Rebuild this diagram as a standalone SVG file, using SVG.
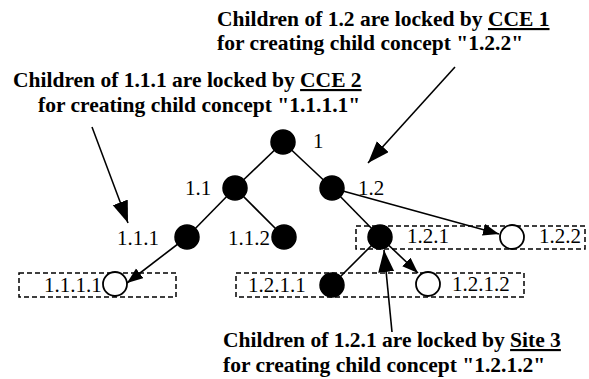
<svg xmlns="http://www.w3.org/2000/svg" width="589" height="379" viewBox="0 0 589 379">
  <style>
    .edge { stroke: #000; stroke-width: 1.6; fill: none; }
    .group { stroke: #000; stroke-width: 1.5; stroke-dasharray: 5 3; fill: none; }
    .full { fill: #000; stroke: #000; stroke-width: 1.5; }
    .open { fill: #fff; stroke: #000; stroke-width: 1.8; }
    .lbl { font-family: "Liberation Serif", "Times New Roman", serif; font-size: 21px; fill: #000; }
    .note { font-family: "Liberation Serif", "Times New Roman", serif; font-size: 21.5px; font-weight: bold; fill: #000; }
    .u { text-decoration: underline; }
  </style>
  <defs>
    <marker id="bigHead" markerUnits="userSpaceOnUse" markerWidth="24" markerHeight="18" refX="22" refY="8" orient="auto">
      <path d="M0,0 L22,8 L0,16 Z" fill="#000"/>
    </marker>
    <marker id="smallHead" markerUnits="userSpaceOnUse" markerWidth="18" markerHeight="14" refX="16" refY="6" orient="auto">
      <path d="M0,0 L16,6 L0,12 Z" fill="#000"/>
    </marker>
  </defs>

  <!-- lock groups (dashed) -->
  <g id="lock-groups">
    <rect class="group" x="19" y="273" width="157" height="24"/>
    <rect class="group" x="236" y="273" width="288" height="24"/>
    <rect class="group" x="356" y="226" width="229" height="23"/>
  </g>

  <!-- connectors -->
  <g id="connectors">
    <line class="edge" x1="283" y1="142" x2="235" y2="188"/>
    <line class="edge" x1="283" y1="142" x2="332" y2="188"/>
    <line class="edge" x1="235" y1="188" x2="187" y2="237"/>
    <line class="edge" x1="235" y1="188" x2="284" y2="237"/>
    <line class="edge" x1="332" y1="188" x2="380" y2="237"/>
    <line class="edge" x1="380" y1="237" x2="332" y2="285"/>
    <line class="edge" x1="187" y1="237" x2="127" y2="283" marker-end="url(#smallHead)"/>
    <line class="edge" x1="332" y1="188" x2="499" y2="234" marker-end="url(#smallHead)"/>
    <line class="edge" x1="380" y1="237" x2="418" y2="273" marker-end="url(#smallHead)"/>
    <!-- annotation pointers -->
    <line class="edge" x1="455" y1="67" x2="368" y2="163" marker-end="url(#bigHead)"/>
    <line class="edge" x1="92" y1="127" x2="128" y2="223" marker-end="url(#bigHead)"/>
    <line class="edge" x1="392" y1="332" x2="384" y2="250" marker-end="url(#bigHead)"/>
  </g>

  <!-- concept nodes -->
  <g id="n1"><circle class="full" cx="283" cy="142" r="12"/><text class="lbl" x="313" y="148">1</text></g>
  <g id="n1-1"><circle class="full" cx="235" cy="188" r="12"/><text class="lbl" x="185" y="195">1.1</text></g>
  <g id="n1-2"><circle class="full" cx="332" cy="188" r="12"/><text class="lbl" x="358" y="195">1.2</text></g>
  <g id="n1-1-1"><circle class="full" cx="187" cy="237" r="12"/><text class="lbl" x="117" y="245">1.1.1</text></g>
  <g id="n1-1-2"><circle class="full" cx="284" cy="237" r="12"/><text class="lbl" x="228" y="245">1.1.2</text></g>
  <g id="n1-2-1"><circle class="full" cx="380" cy="237" r="12"/><text class="lbl" x="407" y="243">1.2.1</text></g>
  <g id="n1-2-2"><circle class="open" cx="512" cy="237" r="12"/><text class="lbl" x="539" y="243">1.2.2</text></g>
  <g id="n1-1-1-1"><circle class="open" cx="115" cy="284" r="12"/><text class="lbl" x="44" y="292">1.1.1.1</text></g>
  <g id="n1-2-1-1"><circle class="full" cx="332" cy="285" r="12"/><text class="lbl" x="248" y="292">1.2.1.1</text></g>
  <g id="n1-2-1-2"><circle class="open" cx="428" cy="284" r="12"/><text class="lbl" x="452" y="291">1.2.1.2</text></g>

  <!-- lock notes -->
  <g id="note-cce1">
    <text class="note" x="217" y="26">Children of 1.2 are locked by <tspan class="u">CCE 1</tspan></text>
    <text class="note" x="217" y="50">for creating child concept "1.2.2"</text>
  </g>
  <g id="note-cce2">
    <text class="note" x="13" y="87">Children of 1.1.1 are locked by <tspan class="u">CCE 2</tspan></text>
    <text class="note" x="38" y="112">for creating child concept "1.1.1.1"</text>
  </g>
  <g id="note-site3">
    <text class="note" x="223" y="347">Children of 1.2.1 are locked by <tspan class="u">Site 3</tspan></text>
    <text class="note" x="223" y="372">for creating child concept "1.2.1.2"</text>
  </g>
</svg>
